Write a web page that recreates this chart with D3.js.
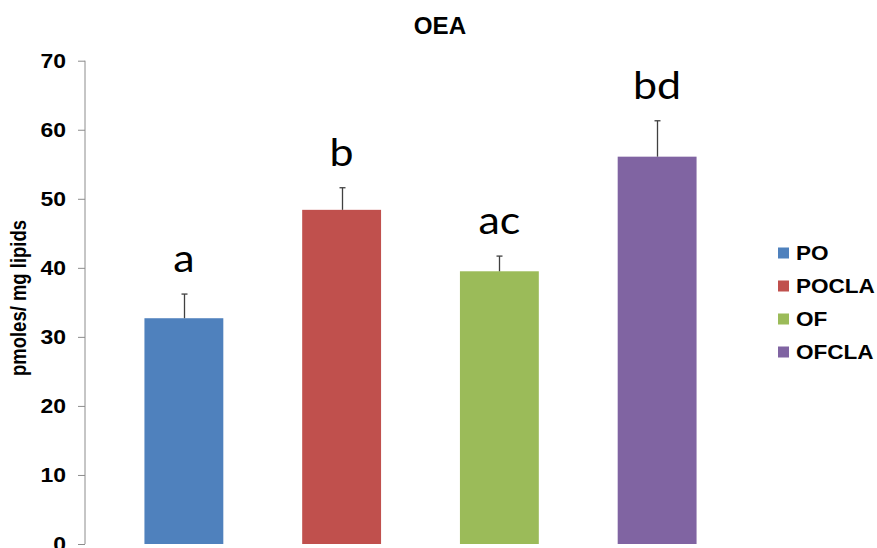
<!DOCTYPE html>
<html>
<head>
<meta charset="utf-8">
<script src="https://cdn.jsdelivr.net/npm/d3@7"></script>
<style>
html,body{margin:0;padding:0;background:#fff;}
svg{display:block;}
</style>
</head>
<body>
<svg id="chart" width="877" height="548"></svg>
<script>
const categories = ["PO", "POCLA", "OF", "OFCLA"];
const means = [32.7, 48.4, 39.5, 56.1];
const errors = [3.5, 3.2, 2.2, 5.2];
const letters = ["a", "b", "ac", "bd"];
const colors = ["#4F81BD", "#C0504D", "#9BBB59", "#8064A2"];
const yTicks = [0, 10, 20, 30, 40, 50, 60, 70];
const title = "OEA";
const yLabel = "pmoles/ mg lipids";

const svg = d3.select("#chart");
const FONT = "'Liberation Sans', Arial, sans-serif";

const x = d3.scaleBand().domain(categories).range([105, 736]).paddingInner(0.5).paddingOuter(0.25);
const y = d3.scaleLinear().domain([0, 70]).range([544, 60.7]);

// y axis
const axisG = svg.append("g").attr("transform", "translate(85,0)");
axisG.call(d3.axisLeft(y).tickValues(yTicks).tickSize(7).tickFormat(""));
axisG.select(".domain").attr("stroke", "#8c8c8c").attr("d", `M0,${y(0)}V${y(70)}`);
axisG.selectAll(".tick line").attr("stroke", "#8c8c8c");

svg.append("g").selectAll("text").data(yTicks).join("text")
  .attr("transform", d => `translate(66,${y(d)}) scale(1.12,1)`)
  .attr("text-anchor", "end").attr("dy", "0.36em")
  .attr("font-family", FONT)
  .attr("font-weight", "bold").attr("font-size", 20.5).attr("fill", "#000")
  .text(d => d);

// y label
svg.append("text")
  .attr("transform", `translate(26,298) scale(1.15,1) rotate(-90)`)
  .attr("text-anchor", "middle")
  .attr("font-family", FONT)
  .attr("font-weight", "bold").attr("font-size", 18.5).attr("fill", "#000")
  .text(yLabel);

// title
svg.append("text")
  .attr("transform", `translate(440,34) scale(1.05,1)`)
  .attr("text-anchor", "middle")
  .attr("font-family", FONT)
  .attr("font-weight", "bold").attr("font-size", 23).attr("fill", "#000")
  .text(title);

// bars
svg.append("g").selectAll("rect").data(categories).join("rect")
  .attr("x", d => x(d))
  .attr("y", (d, i) => y(means[i]))
  .attr("width", x.bandwidth())
  .attr("height", (d, i) => y(0) - y(means[i]))
  .attr("fill", (d, i) => colors[i]);

// error bars
const eg = svg.append("g").attr("stroke", "#404040").attr("stroke-width", 1.3);
categories.forEach((c, i) => {
  const cx = Math.round(x(c) + x.bandwidth() / 2) + 0.5;
  eg.append("line").attr("x1", cx).attr("x2", cx).attr("y1", y(means[i])).attr("y2", y(means[i] + errors[i]));
  eg.append("line").attr("x1", cx - 3).attr("x2", cx + 3).attr("y1", y(means[i] + errors[i])).attr("y2", y(means[i] + errors[i]));
});

// significance letters
svg.append("g").selectAll("text").data(categories).join("text")
  .attr("transform", (d, i) => `translate(${x(d) + x.bandwidth() / 2},${y(means[i] + errors[i]) - 22}) scale(1.1,1)`)
  .attr("text-anchor", "middle")
  .attr("font-family", "Lato, 'Open Sans', sans-serif")
  .attr("font-size", 39).attr("fill", "#000")
  .text((d, i) => letters[i]);

// legend
const lg = svg.append("g").selectAll("g").data(categories).join("g")
  .attr("transform", (d, i) => `translate(778,${253 + i * 33})`);
lg.append("rect").attr("x", 0).attr("y", -5.5).attr("width", 11).attr("height", 11)
  .attr("fill", (d, i) => colors[i]);
lg.append("text")
  .attr("transform", `translate(18,0) scale(1.1,1)`)
  .attr("dy", "0.36em")
  .attr("font-family", FONT)
  .attr("font-weight", "bold").attr("font-size", 20.5).attr("fill", "#000")
  .text(d => d);
</script>
</body>
</html>
